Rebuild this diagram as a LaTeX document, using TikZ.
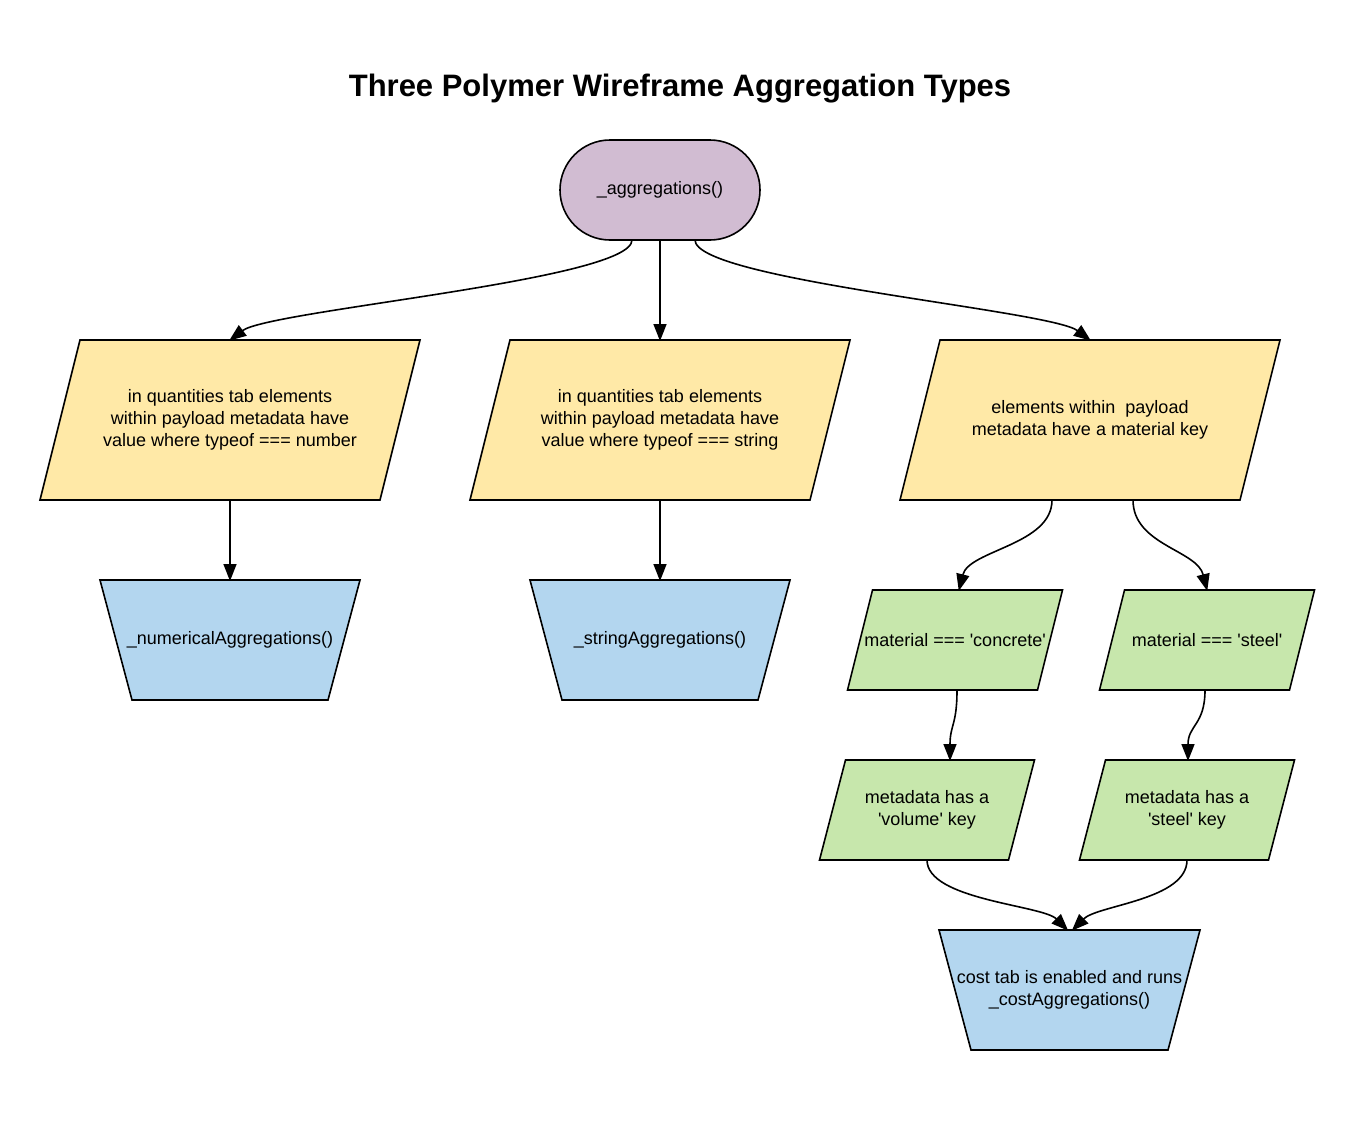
\documentclass[tikz,border=0pt]{standalone}
\usepackage{fontspec}
\setmainfont{Liberation Sans}
\usetikzlibrary{arrows.meta,calc,backgrounds}
\definecolor{termfill}{HTML}{D1BCD2}
\definecolor{yelfill}{HTML}{FFE9A7}
\definecolor{bluefill}{HTML}{B3D6EF}
\definecolor{grnfill}{HTML}{C7E7AC}
\tikzset{
  base/.style={inner sep=0pt, outer sep=0pt, align=center, font=\fontsize{18}{22}\selectfont},
  shapeline/.style={draw=black, line width=1.6pt, line join=miter},
  term/.style={base, shapeline, fill=termfill, rounded corners=50pt, minimum width=200pt, minimum height=100pt},
  bigpara/.style={base, minimum width=380pt, minimum height=160pt},
  smallpara/.style={base, minimum width=215pt, minimum height=100pt},
  trap/.style={base, minimum width=260pt, minimum height=120pt},
  conn/.style={draw=black, line width=1.6pt, -{Triangle[length=17pt,width=13pt]}, shorten >=-1pt},
}
\newcommand\sq{\textquotesingle}
\newcommand\paraShape[3]{%
  \begin{scope}[on background layer]
    \draw[shapeline, fill=#3] ($(#1.north west)+(#2,0)$) -- (#1.north east) -- ($(#1.south east)+(-#2,0)$) -- (#1.south west) -- cycle;
  \end{scope}}
\newcommand\trapShape[3]{%
  \begin{scope}[on background layer]
    \draw[shapeline, fill=#3] (#1.north west) -- (#1.north east) -- ($(#1.south east)+(-#2,0)$) -- ($(#1.south west)+(#2,0)$) -- cycle;
  \end{scope}}
\begin{document}
\begin{tikzpicture}[x=1pt,y=-1pt]
\begin{scope}[on background layer]
\fill[white] (0,0) rectangle (1360,1133);
\end{scope}
\useasboundingbox (0,0) rectangle (1360,1133);
\node[base, font=\fontsize{31}{37}\selectfont\bfseries] (title) at (680,89) {Three Polymer Wireframe Aggregation Types};
\node[term] (agg) at (660,190) {\_aggregations()};

\node[bigpara] (p1) at (230,420) {in quantities tab elements\\within payload metadata have\\value where typeof === number};
\paraShape{p1}{40}{yelfill}
\node[bigpara] (p2) at (660,420) {in quantities tab elements\\within payload metadata have\\value where typeof === string};
\paraShape{p2}{40}{yelfill}
\node[bigpara] (p3) at (1090,420) {elements within\ \ payload\\metadata have a material key};
\paraShape{p3}{40}{yelfill}

\node[trap] (num) at (230,640) {\_numericalAggregations()};
\trapShape{num}{32}{bluefill}
\node[trap] (str) at (660,640) {\_stringAggregations()};
\trapShape{str}{32}{bluefill}

\node[smallpara] (conc) at (955,640) {material === \sq concrete\sq};
\paraShape{conc}{25}{grnfill}
\node[smallpara] (steel) at (1207,640) {material === \sq steel\sq};
\paraShape{steel}{25}{grnfill}
\node[smallpara] (vol) at (927,810) {metadata has a\\\sq volume\sq{} key};
\paraShape{vol}{26}{grnfill}
\node[smallpara] (skey) at (1187,810) {metadata has a\\\sq steel\sq{} key};
\paraShape{skey}{26}{grnfill}

\node[trap, minimum width=261pt] (cost) at (1069.5,990) {cost tab is enabled and runs\\\_costAggregations()};
\trapShape{cost}{32}{bluefill}

% connectors
\draw[conn] ([xshift=-28pt]agg.south) .. controls +(0,40) and +(40,-30) .. (p1.north);
\draw[conn] (agg.south) -- (p2.north);
\draw[conn] ([xshift=35pt]agg.south) .. controls +(0,40) and +(-40,-30) .. (p3.north);
\draw[conn] (p1.south) -- (num.north);
\draw[conn] (p2.south) -- (str.north);
\draw[conn] ([xshift=-38pt]p3.south) .. controls +(0,45) and +(10,-40) .. ([xshift=4pt]conc.north);
\draw[conn] ([xshift=43pt]p3.south) .. controls +(0,45) and +(-10,-40) .. (steel.north);
\draw[conn] ([xshift=2pt]conc.south) .. controls +(0,35) and +(0,-35) .. ([xshift=23pt]vol.north);
\draw[conn] ([xshift=-2pt]steel.south) .. controls +(0,35) and +(0,-35) .. ([xshift=1pt]skey.north);
\draw[conn] (vol.south) .. controls +(0,40) and +(-25,-25) .. ([xshift=-2pt]cost.north);
\draw[conn] (skey.south) .. controls +(0,40) and +(25,-25) .. ([xshift=3pt]cost.north);
\end{tikzpicture}
\end{document}
